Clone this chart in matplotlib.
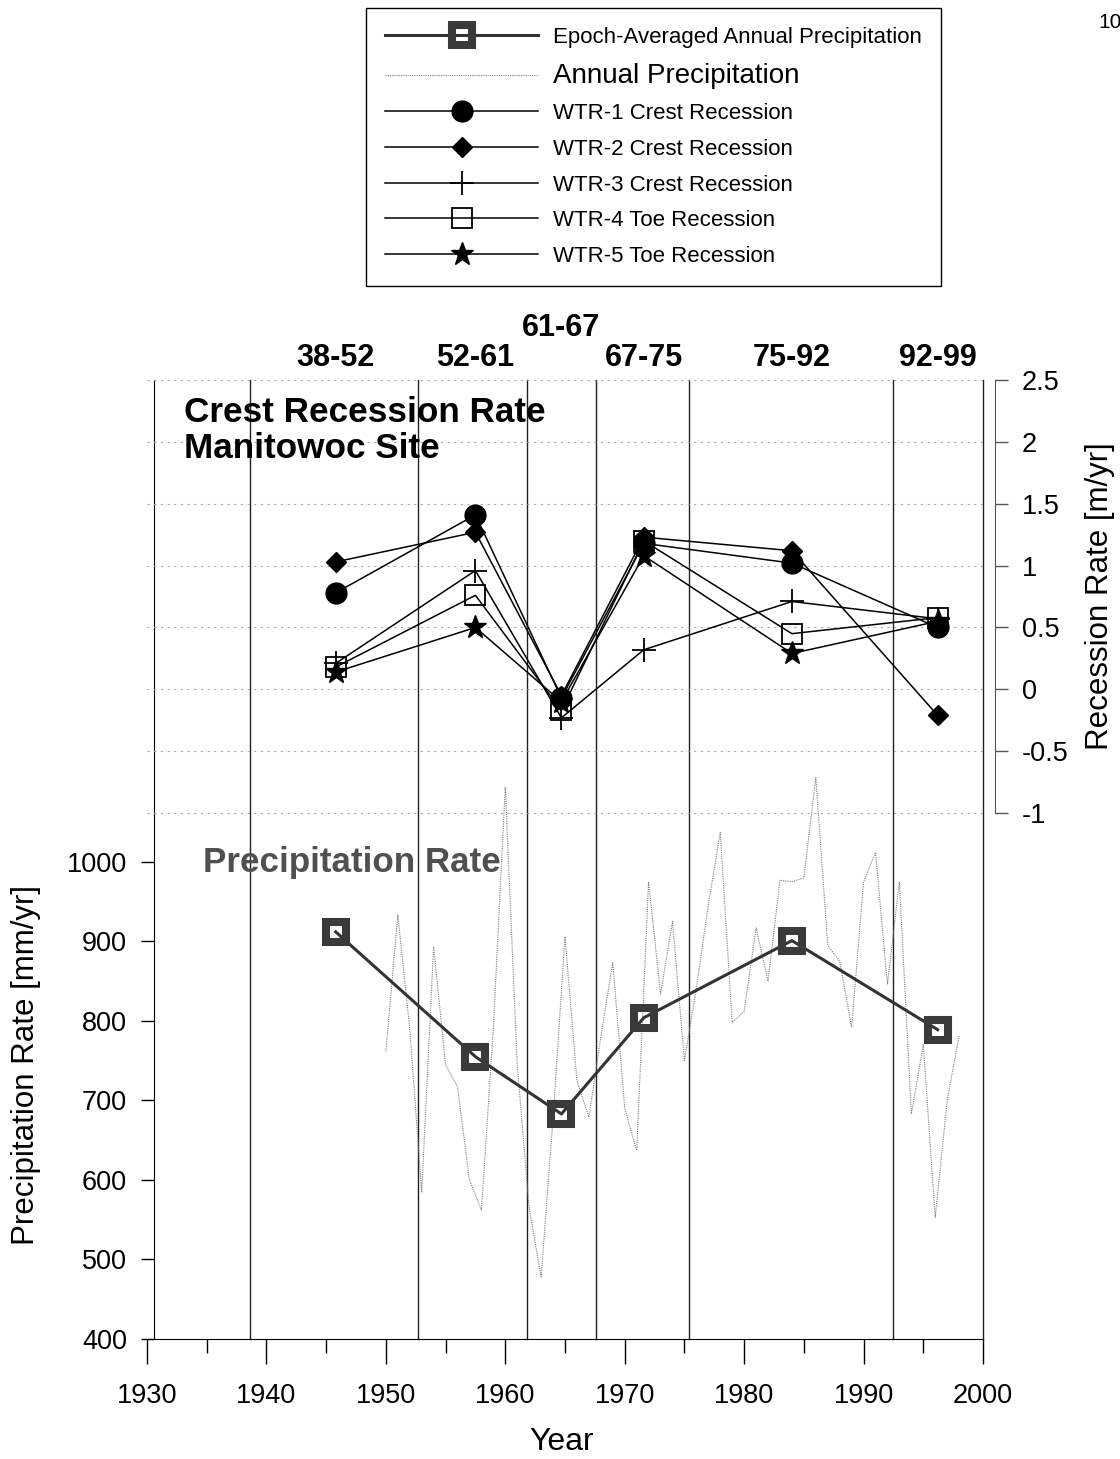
import numpy as np
import matplotlib
matplotlib.use('Agg')
import matplotlib.pyplot as plt
from matplotlib.ticker import MultipleLocator

plt.rcParams['font.family'] = ['Liberation Sans', 'DejaVu Sans']

# epochs
epoch_labels = ['38-52', '52-61', '61-67', '67-75', '75-92', '92-99']
epoch_mid = [1945.8, 1957.5, 1964.7, 1971.6, 1984.0, 1996.2]
epoch_edges = [1938.6, 1952.7, 1961.8, 1967.6, 1975.4, 1992.5, 2000.0]
epoch_precip = [912, 755, 683, 804, 901, 789]

# annual precipitation [mm/yr]
years = list(range(1950, 1999))
annual_precip = [762, 933, 790, 585, 893, 745, 717, 600, 562, 790,
                 1094, 745, 565, 478, 678, 906, 725, 679, 780, 873,
                 690, 637, 975, 834, 925, 750, 841, 946, 1037, 798,
                 812, 917, 850, 977, 975, 980, 1106, 895, 875, 792,
                 975, 1012, 846, 975, 683, 770, 553, 700, 781]

# recession rates [m/yr]
wtr1 = [0.78, 1.41, -0.07, 1.18, 1.02, 0.50]
wtr2 = [1.03, 1.27, -0.05, 1.23, 1.12, -0.21]
wtr3 = [0.21, 0.96, -0.23, 0.32, 0.71, 0.57]
wtr4 = [0.18, 0.76, -0.17, 1.20, 0.45, 0.58]
wtr5 = [0.14, 0.50, -0.10, 1.08, 0.29, 0.55]

W, H = 1120, 1459
fig = plt.figure(figsize=(W / 100, H / 100), dpi=100)


def fx(px):
    return px / W


def fy(py):
    return 1 - py / H


ax = fig.add_axes([fx(147), fy(1339), (983 - 147) / W, (1339 - 380) / H])
ax.set_xlim(1930, 2000)
ax.set_ylim(400, 1606)
ax.set_yticks(np.arange(400, 1001, 100))
ax.xaxis.set_major_locator(MultipleLocator(10))
ax.xaxis.set_minor_locator(MultipleLocator(5))
for s in ['top', 'right']:
    ax.spines[s].set_visible(False)
ax.spines['left'].set_position(('data', 1930.6))
ax.tick_params(axis='y', direction='out', length=9.5, width=1, pad=10, labelsize=19.5)
ax.tick_params(axis='x', which='major', direction='out', length=18, width=1, pad=14, labelsize=19.5)
ax.tick_params(axis='x', which='minor', direction='out', length=10, width=1)

for e in epoch_edges:
    ax.axvline(e, color='#222222', lw=1.0, clip_on=False, zorder=1)

l_annual, = ax.plot(years, annual_precip, ls=(0, (1, 1)), color='#808080', lw=0.8,
                    label='Annual Precipitation')
l_epoch, = ax.plot(epoch_mid, epoch_precip, color='#333333', lw=2.2, marker='s', ms=14.5,
                   mew=5.8, mec='#3a3a3a', mfc='none', zorder=4,
                   label='Epoch-Averaged Annual Precipitation')

ax2 = ax.twinx()
ax2.set_ylim(-5.25, 2.5)
ax2.set_yticks(np.arange(-1, 2.51, 0.5))
ax2.set_yticklabels(['-1', '-0.5', '0', '0.5', '1', '1.5', '2', '2.5'])
for s in ['top', 'left', 'bottom']:
    ax2.spines[s].set_visible(False)
ax2.spines['right'].set_position(('outward', 8.6))
ax2.spines['right'].set_bounds(-1, 2.5)
ax2.spines['right'].set_color('#555555')
ax2.tick_params(axis='y', direction='out', length=9.5, width=1, pad=10, labelsize=19.5,
                color='#555555')
ax2.yaxis.grid(True, ls=(0, (2, 4)), color='#aaaaaa', lw=0.8)

kw = dict(color='black', lw=1.1)
l1, = ax2.plot(epoch_mid, wtr1, marker='o', ms=15, label='WTR-1 Crest Recession', **kw)
l2, = ax2.plot(epoch_mid, wtr2, marker='D', ms=10.5, label='WTR-2 Crest Recession', **kw)
l3, = ax2.plot(epoch_mid, wtr3, marker='+', ms=17, mew=1.3, label='WTR-3 Crest Recession', **kw)
l4, = ax2.plot(epoch_mid, wtr4, marker='s', ms=14, mew=1.3, mfc='none',
               label='WTR-4 Toe Recession', **kw)
l5, = ax2.plot(epoch_mid, wtr5, marker='*', ms=17, label='WTR-5 Toe Recession', **kw)

# epoch labels above the plot
for x, lbl in zip(epoch_mid, epoch_labels):
    y = 2.92 if lbl == '61-67' else 2.68
    ax2.text(x, y, lbl, ha='center', va='center', fontsize=22, fontweight='bold',
             clip_on=False)

fig.text(fx(184), fy(396), 'Crest Recession Rate\nManitowoc Site', ha='left', va='top',
         fontsize=25.3, fontweight='bold', linespacing=1.1)
fig.text(fx(203), fy(846), 'Precipitation Rate', ha='left', va='top',
         fontsize=25.2, fontweight='bold', color='#505050')

fig.text(fx(26), fy(1065), 'Precipitation Rate [mm/yr]', rotation=90, ha='center',
         va='center', fontsize=22.5)
fig.text(fx(1100), fy(596), 'Recession Rate [m/yr]', rotation=90, ha='center',
         va='center', fontsize=22.5)
fig.text(fx(562), fy(1442), 'Year', ha='center', va='center', fontsize=23)
fig.text(fx(1098), fy(23), '10', ha='left', va='center', fontsize=15)

leg = ax2.legend(handles=[l_epoch, l_annual, l1, l2, l3, l4, l5], loc='upper left',
                 bbox_to_anchor=(fx(366), fy(8)), bbox_transform=fig.transFigure,
                 borderaxespad=0, borderpad=0.85, handlelength=6.9, handletextpad=0.68,
                 labelspacing=0.66, fontsize=16, fancybox=False, framealpha=1,
                 edgecolor='black')
leg.get_frame().set_linewidth(1.0)
leg.get_texts()[1].set_fontsize(20)

fig.savefig('out.png', dpi=100)
